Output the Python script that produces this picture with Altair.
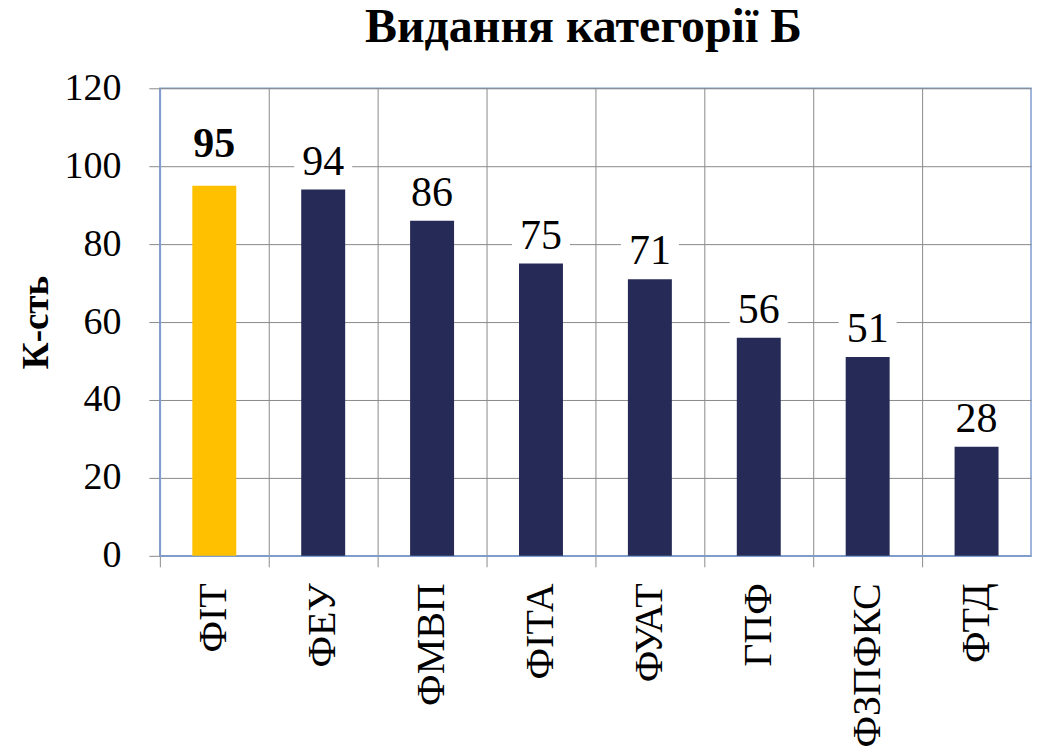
import altair as alt
import pandas as pd

categories = ["ФІТ", "ФЕУ", "ФМВП", "ФІТА", "ФУАТ", "ГПФ", "ФЗПФКС", "ФТД"]
values = [95, 94, 86, 75, 71, 56, 51, 28]
highlight = [True, False, False, False, False, False, False, False]

df = pd.DataFrame({"cat": categories, "val": values, "hl": highlight})

FONT = "'Liberation Serif', 'Times New Roman', serif"
GRID = "#8a8a8a"
BORDER = "#7f9dcf"

x = alt.X("cat:N", sort=categories, title=None,
          scale=alt.Scale(paddingInner=0, paddingOuter=0),
          axis=alt.Axis(labelAngle=270, labelFont=FONT, labelFontSize=40, labelColor="black",
                        labelAlign="right", labelBaseline="middle", labelPadding=16,
                        bandPosition=0, grid=True, gridColor=GRID, gridWidth=1,
                        tickColor=GRID, tickSize=11, domainColor=BORDER, domainWidth=1.5))
y = alt.Y("val:Q", title="К-сть",
          scale=alt.Scale(domain=[0, 120], nice=False),
          axis=alt.Axis(values=[0, 20, 40, 60, 80, 100, 120], labelFont=FONT, labelFontSize=38,
                        labelColor="black", labelPadding=28, tickColor=GRID, tickSize=11,
                        gridColor=GRID, gridWidth=1, domainColor=BORDER, domainWidth=1.5,
                        titleFont=FONT, titleFontSize=37, titleFontWeight="bold",
                        titleColor="black", titlePadding=8))

color = alt.Color("hl:N", scale=alt.Scale(domain=[True, False], range=["#ffc000", "#262a56"]),
                  legend=None)

bars = alt.Chart(df).mark_bar(width=44).encode(x=x, y=y, color=color)

boxes = alt.Chart(df).transform_filter("!datum.hl").transform_calculate(
    lo="datum.val + 3", hi="datum.val + 11.5"
).mark_bar(width=58, color="white").encode(
    x=alt.X("cat:N", sort=categories), y="lo:Q", y2="hi:Q")

labels = alt.Chart(df).transform_filter("!datum.hl").mark_text(
    font=FONT, fontSize=42, baseline="alphabetic", dy=-15, color="black"
).encode(x=alt.X("cat:N", sort=categories), y="val:Q", text="val:Q")

labels_hl = alt.Chart(df).transform_filter("datum.hl").mark_text(
    font=FONT, fontSize=42, fontWeight="bold", baseline="alphabetic", dy=-29, color="black"
).encode(x=alt.X("cat:N", sort=categories), y="val:Q", text="val:Q")

chart = alt.layer(bars, boxes, labels, labels_hl).properties(
    width=872, height=468,
    title=alt.TitleParams("Видання категорії Б", font=FONT, fontSize=48, fontWeight="bold",
                          color="black", anchor="middle", offset=17, dx=-12),
    padding={"left": 10, "top": -4, "right": 4, "bottom": 0},
).configure_view(stroke=BORDER, strokeWidth=1.5).configure_axis(gridOpacity=1)

chart.save("out.html", embed_options={"renderer": "svg", "actions": False})
